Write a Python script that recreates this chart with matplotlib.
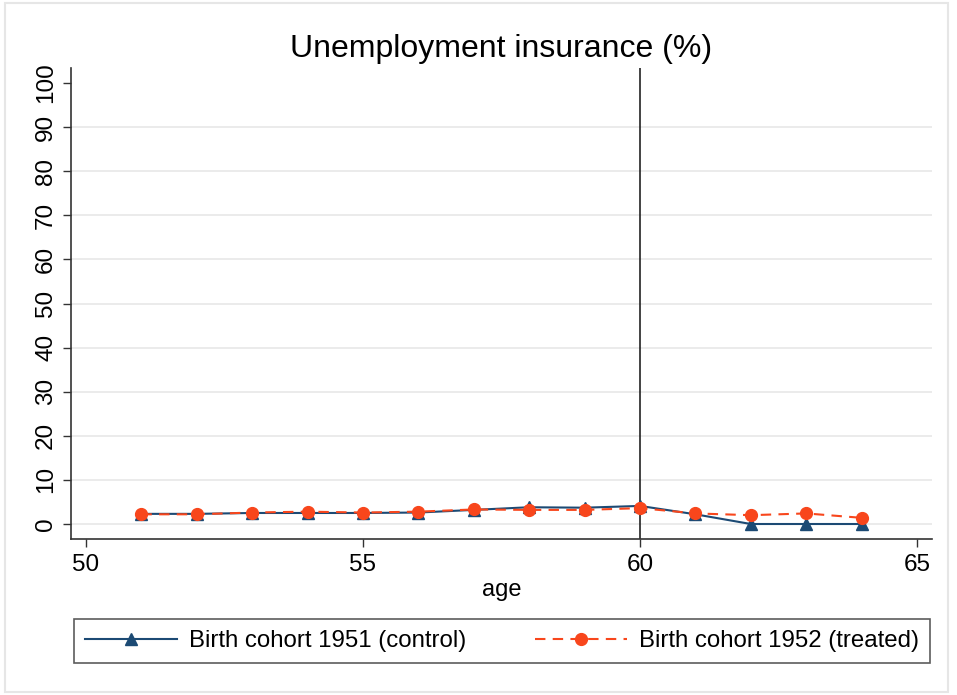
import matplotlib
matplotlib.use("Agg")
import matplotlib.pyplot as plt
from matplotlib.patches import Rectangle

plt.rcParams['font.family'] = ['Liberation Sans', 'DejaVu Sans']

ages = [51, 52, 53, 54, 55, 56, 57, 58, 59, 60, 61, 62, 63, 64]
control_1951 = [2.3, 2.3, 2.5, 2.5, 2.5, 2.6, 3.2, 3.8, 3.7, 4.1, 2.2, 0.0, 0.0, 0.0]
treated_1952 = [2.2, 2.2, 2.6, 2.8, 2.6, 2.8, 3.3, 3.2, 3.2, 3.6, 2.4, 2.0, 2.4, 1.4]
x_ticks = [50, 55, 60, 65]
y_ticks = list(range(0, 101, 10))
cutoff_age = 60

navy = '#1c4a74'
orange = '#f8461c'

fig = plt.figure(figsize=(9.57, 6.95), dpi=100)
fig.patch.set_facecolor('white')
# outer frame
fig.add_artist(Rectangle((5 / 957, 3 / 695), 943 / 957, 689 / 695,
                         transform=fig.transFigure, fill=False,
                         edgecolor='#e6e6e6', linewidth=1.5))

ax = fig.add_axes([71 / 957, 1 - 539 / 695, (932 - 71) / 957, (539 - 68) / 695])
ax.set_xlim(49.73, 65.27)
ax.set_ylim(-3.4, 103.4)

for y in y_ticks[:-1]:
    ax.axhline(y, color='#e8e8e8', linewidth=1.2, zorder=0)

ax.axvline(cutoff_age, color='#222222', linewidth=1.2, zorder=1)

ax.plot(ages, control_1951, color=navy, linewidth=1.5, marker='^',
        markersize=8, label='Birth cohort 1951 (control)', zorder=3)
ax.plot(ages, treated_1952, color=orange, linewidth=1.5, linestyle=(0, (5, 3.5)),
        marker='o', markersize=8.5, label='Birth cohort 1952 (treated)', zorder=4)

ax.set_xticks(x_ticks)
ax.set_yticks(y_ticks)
ax.tick_params(axis='both', labelsize=17.5, length=6, width=1, color='#333333')
ax.tick_params(axis='x', pad=5)
ax.tick_params(axis='y', pad=4)
for lab in ax.get_yticklabels():
    lab.set_rotation(90)
    lab.set_va('center')

for s in ['top', 'right']:
    ax.spines[s].set_visible(False)
for s in ['left', 'bottom']:
    ax.spines[s].set_color('#333333')
    ax.spines[s].set_linewidth(1.2)

ax.set_xlabel('age', fontsize=17, labelpad=2)
ax.set_title('Unemployment insurance (%)', fontsize=23, pad=8)

leg = fig.legend(loc='center', bbox_to_anchor=(502 / 957, 1 - 641 / 695),
                 ncol=2, fontsize=17.3, frameon=True, fancybox=False,
                 edgecolor='#333333', handlelength=3.8, columnspacing=2.9,
                 borderpad=0.45, handletextpad=0.5)
leg.get_frame().set_linewidth(1.2)

fig.savefig('out.png', dpi=100, facecolor='white')
